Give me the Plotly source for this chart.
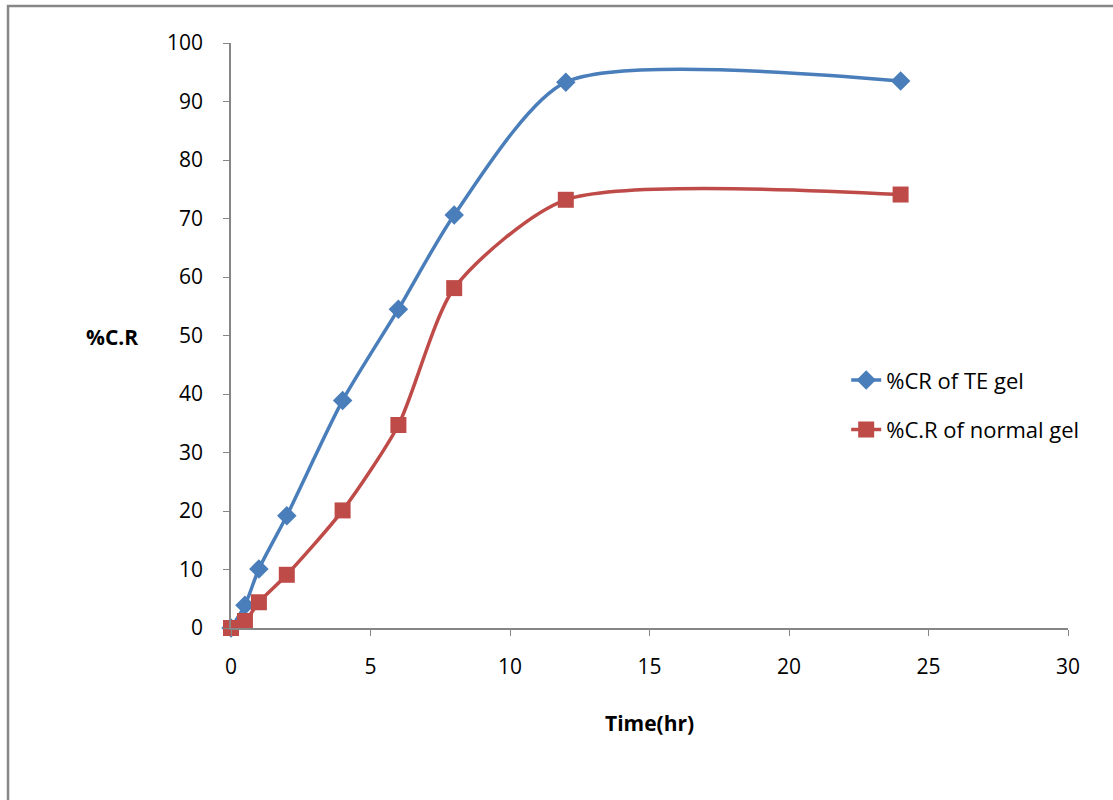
import plotly.graph_objects as go

time_hr = [0, 0.5, 1, 2, 4, 6, 8, 12, 24]
cr_te_gel = [0, 3.9, 10.1, 19.2, 38.9, 54.5, 70.6, 93.3, 93.5]
cr_normal_gel = [0, 1.2, 4.4, 9.1, 20.1, 34.7, 58.1, 73.2, 74.1]

x_ticks = [0, 5, 10, 15, 20, 25, 30]
y_ticks = [0, 10, 20, 30, 40, 50, 60, 70, 80, 90, 100]

blue = "#4a7ebb"
red = "#be4b48"
font_family = "Open Sans, Liberation Sans, DejaVu Sans, sans-serif"

fig = go.Figure()
fig.add_trace(go.Scatter(
    x=time_hr, y=cr_te_gel, name="%CR of TE gel",
    mode="lines+markers", legendgroup="a",
    line=dict(color=blue, width=3.5, shape="spline", smoothing=0.7),
    marker=dict(symbol="diamond", size=15, color=blue),
    cliponaxis=False,
))
fig.add_trace(go.Scatter(
    x=time_hr, y=cr_normal_gel, name="%C.R of normal gel",
    mode="lines+markers", legendgroup="b",
    line=dict(color=red, width=3.5, shape="spline", smoothing=0.7),
    marker=dict(symbol="square", size=16, color=red),
    cliponaxis=False,
))

axis_color = "#868686"
fig.update_layout(
    width=1113, height=800,
    paper_bgcolor="white", plot_bgcolor="white",
    margin=dict(l=231, r=45, t=43, b=172),
    font=dict(family=font_family, size=21, color="black"),
    showlegend=True,
    legend=dict(
        x=0.735, y=0.381, xanchor="left", yanchor="middle",
        bgcolor="rgba(0,0,0,0)", font=dict(size=22),
        traceorder="grouped", tracegroupgap=18,
    ),
    xaxis=dict(
        range=[0, 30], tickvals=x_ticks, ticks="outside", ticklen=6,
        tickcolor=axis_color, showline=True, linecolor=axis_color, linewidth=1.5,
        showgrid=False, zeroline=False, tickfont=dict(size=21),
        ticklabelstandoff=13,
    ),
    yaxis=dict(
        range=[0, 100], tickvals=y_ticks, ticks="outside", ticklen=6,
        tickcolor=axis_color, showline=True, linecolor=axis_color, linewidth=1.5,
        showgrid=False, zeroline=False, tickfont=dict(size=21),
        ticklabelstandoff=16,
    ),
    annotations=[
        dict(text="<b>%C.R</b>", xref="paper", yref="paper", x=-0.142, y=0.497,
             xanchor="center", yanchor="middle", showarrow=False, font=dict(size=21)),
        dict(text="<b>Time(hr)</b>", xref="paper", yref="paper", x=0.5, y=-0.162,
             xanchor="center", yanchor="middle", showarrow=False, font=dict(size=21)),
    ],
    shapes=[
        dict(type="rect", xref="paper", yref="paper", x0=-0.2664, y0=-0.4,
             x1=1.2, y1=1.0632, line=dict(color="#878787", width=2.5),
             fillcolor="rgba(0,0,0,0)", layer="below"),
    ],
)

fig.write_html("out.html")
